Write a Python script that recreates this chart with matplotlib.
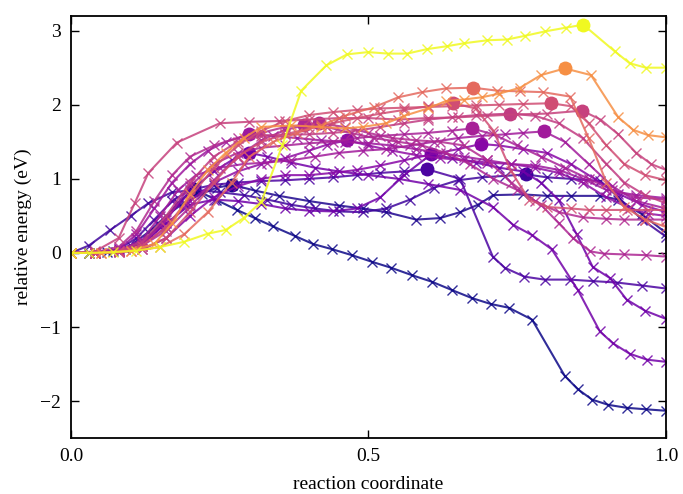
import numpy as np
import matplotlib
matplotlib.use('Agg')
import matplotlib.pyplot as plt

# ── NEB energy profiles (reaction coordinate, relative energy in eV) ──────────
x_A = [0, 0.03, 0.06, 0.09, 0.12, 0.15, 0.18, 0.207, 0.243, 0.279, 0.309, 0.339, 0.376, 0.407, 0.439,
       0.472, 0.506, 0.538, 0.573, 0.607, 0.640, 0.674, 0.706, 0.736, 0.775, 0.830, 0.852, 0.876,
       0.903, 0.934, 0.966, 1.0]
y_A = [0, 0.0, 0.01, 0.05, 0.15, 0.38, 0.68, 0.86, 0.72, 0.58, 0.47, 0.36, 0.23, 0.12, 0.05,
       -0.03, -0.12, -0.20, -0.30, -0.39, -0.50, -0.61, -0.69, -0.74, -0.90, -1.66, -1.84, -1.98,
       -2.05, -2.09, -2.11, -2.13]

x_B = [0, 0.03, 0.07, 0.10, 0.13, 0.16, 0.19, 0.22, 0.245, 0.27, 0.31, 0.35, 0.40, 0.45, 0.49,
       0.53, 0.58, 0.62, 0.654, 0.684, 0.71, 0.76, 0.80, 0.84, 0.89, 0.92, 0.96, 1.0]
y_B = [0, 0.0, 0.02, 0.10, 0.28, 0.50, 0.68, 0.80, 0.88, 0.92, 0.84, 0.77, 0.70, 0.64, 0.60,
       0.55, 0.45, 0.47, 0.55, 0.65, 0.78, 0.79, 0.77, 0.77, 0.77, 0.72, 0.52, 0.27]

x_C = [0, 0.03, 0.066, 0.10, 0.13, 0.17, 0.21, 0.25, 0.29, 0.33, 0.37, 0.41, 0.45, 0.49, 0.53,
       0.57, 0.61, 0.65, 0.69, 0.73, 0.765, 0.80, 0.84, 0.89, 0.92, 0.96, 1.0]
y_C = [0, 0.1, 0.31, 0.5, 0.67, 0.82, 0.85, 0.82, 0.78, 0.72, 0.65, 0.6, 0.56, 0.55, 0.6,
       0.72, 0.88, 0.98, 1.02, 1.04, 1.06, 1.02, 1.0, 0.97, 0.75, 0.45, 0.22]

x_D = [0, 0.04, 0.08, 0.11, 0.14, 0.17, 0.20, 0.24, 0.28, 0.32, 0.36, 0.40, 0.44, 0.48, 0.52,
       0.56, 0.598, 0.654, 0.709, 0.729, 0.762, 0.796, 0.838, 0.877, 0.918, 0.96, 1.0]
y_D = [0, 0.0, 0.05, 0.2, 0.45, 0.7, 0.85, 0.92, 0.95, 0.97, 0.98, 1.0, 1.02, 1.05, 1.08,
       1.1, 1.13, 1.0, -0.05, -0.2, -0.32, -0.36, -0.36, -0.38, -0.4, -0.44, -0.48]

x_E = [0, 0.04, 0.08, 0.12, 0.16, 0.20, 0.24, 0.28, 0.32, 0.36, 0.40, 0.44, 0.48, 0.52, 0.56,
       0.605, 0.64, 0.68, 0.72, 0.76, 0.79, 0.82, 0.85, 0.877, 0.906, 0.934, 0.965, 1.0]
y_E = [0, 0.0, 0.02, 0.12, 0.4, 0.65, 0.72, 0.7, 0.66, 0.6, 0.57, 0.56, 0.6, 0.75, 1.05,
       1.33, 1.28, 1.22, 1.15, 1.1, 0.95, 0.71, 0.25, -0.19, -0.34, -0.63, -0.78, -0.89]

x_F = [0, 0.04, 0.08, 0.12, 0.15, 0.18, 0.21, 0.24, 0.27, 0.30, 0.33, 0.37, 0.41, 0.45, 0.50,
       0.55, 0.60, 0.654, 0.709, 0.743, 0.775, 0.808, 0.852, 0.889, 0.911, 0.939, 0.968, 1.0]
y_F = [0, 0.0, 0.02, 0.12, 0.35, 0.65, 0.9, 1.1, 1.25, 1.35, 1.3, 1.22, 1.15, 1.1, 1.05,
       1.0, 0.93, 0.85, 0.62, 0.38, 0.24, 0.05, -0.5, -1.06, -1.22, -1.36, -1.44, -1.47]

x_G = [0, 0.04, 0.08, 0.12, 0.16, 0.20, 0.24, 0.28, 0.32, 0.36, 0.40, 0.44, 0.48, 0.52, 0.56,
       0.60, 0.65, 0.689, 0.72, 0.76, 0.80, 0.84, 0.88, 0.92, 0.96, 1.0]
y_G = [0, 0.0, 0.01, 0.05, 0.2, 0.5, 0.75, 0.9, 1.0, 1.05, 1.05, 1.08, 1.12, 1.18, 1.25,
       1.32, 1.4, 1.47, 1.45, 1.4, 1.35, 1.2, 1.0, 0.8, 0.65, 0.55]

x_H = [0, 0.04, 0.08, 0.12, 0.16, 0.20, 0.24, 0.28, 0.32, 0.36, 0.40, 0.43, 0.464, 0.50, 0.54,
       0.58, 0.62, 0.66, 0.70, 0.74, 0.78, 0.82, 0.86, 0.90, 0.94, 0.97, 1.0]
y_H = [0, 0.0, 0.02, 0.1, 0.35, 0.7, 0.95, 1.1, 1.2, 1.28, 1.38, 1.46, 1.52, 1.45, 1.38,
       1.32, 1.28, 1.25, 1.22, 1.2, 1.15, 1.08, 0.95, 0.75, 0.6, 0.53, 0.5]

x_I = [0, 0.04, 0.08, 0.11, 0.14, 0.17, 0.20, 0.23, 0.26, 0.299, 0.34, 0.38, 0.42, 0.46, 0.50,
       0.54, 0.58, 0.62, 0.66, 0.70, 0.74, 0.78, 0.82, 0.86, 0.90, 0.95, 1.0]
y_I = [0, 0.0, 0.05, 0.25, 0.6, 0.95, 1.2, 1.38, 1.5, 1.60, 1.58, 1.55, 1.52, 1.5, 1.48,
       1.45, 1.4, 1.35, 1.3, 1.25, 1.2, 1.18, 1.12, 1.0, 0.85, 0.78, 0.74]

x_J = [0, 0.04, 0.08, 0.12, 0.15, 0.18, 0.21, 0.25, 0.29, 0.33, 0.37, 0.41, 0.45, 0.49, 0.53,
       0.57, 0.61, 0.65, 0.69, 0.73, 0.76, 0.795, 0.83, 0.87, 0.91, 0.95, 1.0]
y_J = [0, 0.0, 0.03, 0.18, 0.5, 0.85, 1.05, 1.15, 1.2, 1.22, 1.25, 1.3, 1.35, 1.38, 1.4,
       1.45, 1.5, 1.55, 1.58, 1.6, 1.62, 1.64, 1.5, 1.2, 0.9, 0.7, 0.6]

x_K = [0, 0.04, 0.08, 0.12, 0.16, 0.20, 0.24, 0.28, 0.32, 0.36, 0.40, 0.44, 0.48, 0.52, 0.56,
       0.60, 0.64, 0.674, 0.71, 0.75, 0.79, 0.83, 0.87, 0.91, 0.95, 1.0]
y_K = [0, 0.0, 0.02, 0.12, 0.45, 0.9, 1.2, 1.35, 1.42, 1.45, 1.48, 1.5, 1.55, 1.58, 1.6,
       1.62, 1.65, 1.68, 1.6, 1.45, 1.3, 1.15, 1.0, 0.85, 0.75, 0.72]

x_L = [0, 0.04, 0.08, 0.12, 0.16, 0.20, 0.24, 0.28, 0.32, 0.36, 0.392, 0.43, 0.47, 0.51, 0.55,
       0.59, 0.63, 0.67, 0.71, 0.75, 0.79, 0.82, 0.844, 0.873, 0.896, 0.929, 0.966, 1.0]
y_L = [0, 0.0, 0.02, 0.1, 0.3, 0.62, 0.98, 1.3, 1.52, 1.66, 1.72, 1.70, 1.62, 1.55, 1.5,
       1.45, 1.35, 1.2, 1.0, 0.85, 0.65, 0.4, 0.2, 0.02, -0.01, -0.02, -0.03, -0.05]

x_M = [0, 0.04, 0.08, 0.11, 0.14, 0.17, 0.20, 0.24, 0.28, 0.32, 0.36, 0.417, 0.46, 0.50, 0.54,
       0.58, 0.62, 0.66, 0.70, 0.74, 0.78, 0.82, 0.86, 0.90, 0.93, 0.965, 1.0]
y_M = [0, 0.01, 0.08, 0.3, 0.7, 1.05, 1.3, 1.45, 1.55, 1.62, 1.7, 1.75, 1.7, 1.62, 1.55,
       1.52, 1.5, 1.45, 1.25, 0.95, 0.7, 0.55, 0.48, 0.46, 0.45, 0.45, 0.45]

x_N = [0, 0.04, 0.08, 0.12, 0.16, 0.20, 0.24, 0.28, 0.32, 0.36, 0.40, 0.44, 0.48, 0.52, 0.56,
       0.60, 0.64, 0.68, 0.738, 0.78, 0.82, 0.86, 0.90, 0.93, 0.965, 1.0]
y_N = [0, 0.0, 0.03, 0.15, 0.5, 0.95, 1.3, 1.5, 1.58, 1.6, 1.6, 1.62, 1.65, 1.7, 1.75,
       1.8, 1.83, 1.86, 1.88, 1.85, 1.75, 1.55, 1.2, 0.95, 0.78, 0.67]

x_O = [0, 0.04, 0.08, 0.107, 0.13, 0.178, 0.25, 0.30, 0.35, 0.40, 0.45, 0.50, 0.55, 0.60, 0.65,
       0.70, 0.75, 0.80, 0.859, 0.89, 0.92, 0.95, 0.975, 1.0]
y_O = [0, 0.02, 0.2, 0.67, 1.08, 1.49, 1.75, 1.77, 1.78, 1.80, 1.82, 1.82, 1.80, 1.82, 1.83,
       1.85, 1.87, 1.88, 1.92, 1.8, 1.6, 1.35, 1.2, 1.12]

x_P = [0, 0.04, 0.08, 0.12, 0.16, 0.20, 0.24, 0.28, 0.32, 0.36, 0.40, 0.44, 0.48, 0.52, 0.56,
       0.60, 0.642, 0.68, 0.71, 0.74, 0.77, 0.80, 0.84, 0.87, 0.90, 0.935, 0.97, 1.0]
y_P = [0, 0.0, 0.01, 0.05, 0.2, 0.55, 0.95, 1.3, 1.5, 1.6, 1.68, 1.75, 1.82, 1.88, 1.93,
       1.98, 2.02, 1.95, 1.65, 1.1, 0.72, 0.62, 0.6, 0.58, 0.58, 0.58, 0.58, 0.58]

x_Q = [0, 0.04, 0.08, 0.12, 0.16, 0.20, 0.24, 0.28, 0.32, 0.36, 0.40, 0.44, 0.48, 0.52, 0.56,
       0.60, 0.64, 0.68, 0.72, 0.76, 0.807, 0.84, 0.87, 0.90, 0.93, 0.965, 1.0]
y_Q = [0, 0.0, 0.02, 0.1, 0.35, 0.75, 1.15, 1.45, 1.65, 1.78, 1.86, 1.90, 1.93, 1.95, 1.96,
       1.97, 1.98, 1.99, 2.0, 2.01, 2.02, 1.98, 1.75, 1.45, 1.2, 1.05, 0.98]

x_R = [0, 0.05, 0.10, 0.15, 0.19, 0.23, 0.27, 0.30, 0.34, 0.38, 0.42, 0.46, 0.51, 0.55, 0.59,
       0.63, 0.676, 0.716, 0.755, 0.793, 0.839, 0.87, 0.90, 0.93, 0.965, 1.0]
y_R = [0, 0.0, 0.02, 0.08, 0.25, 0.55, 0.95, 1.3, 1.5, 1.62, 1.72, 1.85, 1.97, 2.10, 2.17,
       2.22, 2.23, 2.19, 2.18, 2.17, 2.11, 1.55, 0.95, 0.62, 0.45, 0.35]

x_S = [0, 0.05, 0.10, 0.14, 0.17, 0.20, 0.23, 0.26, 0.29, 0.32, 0.37, 0.42, 0.46, 0.49, 0.53,
       0.56, 0.60, 0.63, 0.66, 0.69, 0.72, 0.755, 0.79, 0.83, 0.874, 0.92, 0.945, 0.97, 1.0]
y_S = [0, 0.0, 0.03, 0.12, 0.4, 0.8, 1.12, 1.35, 1.55, 1.70, 1.72, 1.70, 1.68, 1.70, 1.75,
       1.85, 1.95, 2.05, 2.07, 2.10, 2.15, 2.23, 2.40, 2.49, 2.40, 1.83, 1.66, 1.59, 1.56]

x_T = [0, 0.03, 0.07, 0.11, 0.15, 0.19, 0.23, 0.26, 0.29, 0.32, 0.355, 0.387, 0.429, 0.464, 0.499,
       0.533, 0.565, 0.598, 0.632, 0.661, 0.70, 0.733, 0.763, 0.797, 0.832, 0.861, 0.914, 0.939,
       0.966, 1.0]
y_T = [0, 0.0, 0.01, 0.03, 0.08, 0.15, 0.26, 0.31, 0.47, 0.69, 1.45, 2.19, 2.53, 2.68, 2.71,
       2.69, 2.69, 2.75, 2.79, 2.83, 2.87, 2.88, 2.93, 2.99, 3.04, 3.08, 2.72, 2.56, 2.50, 2.50]

paths = [(x_A, y_A), (x_B, y_B), (x_C, y_C), (x_D, y_D), (x_E, y_E), (x_F, y_F),
         (x_G, y_G), (x_H, y_H), (x_I, y_I), (x_J, y_J), (x_K, y_K), (x_L, y_L),
         (x_M, y_M), (x_N, y_N), (x_O, y_O), (x_P, y_P), (x_Q, y_Q), (x_R, y_R),
         (x_S, y_S), (x_T, y_T)]

# ── Plot ──────────────────────────────────────────────────────────────────────
plt.rcParams['font.family'] = ['Liberation Serif', 'DejaVu Serif']
plt.rcParams['mathtext.fontset'] = 'stix'

fig = plt.figure(figsize=(6.83, 4.94), dpi=100)
ax = fig.add_axes([0.104, 0.113, 0.871, 0.855])

barriers = [max(y) for _, y in paths]
lo, hi = min(barriers), max(barriers)
cmap = plt.get_cmap('plasma')

for (x, y), b in zip(paths, barriers):
    c = cmap((b - lo) / (hi - lo))
    ax.plot(x, y, '-x', color=c, lw=1.5, ms=7, mew=1.0, alpha=0.85)
    i = int(np.argmax(y))
    ax.plot(x[i], y[i], 'o', color=c, ms=9, mec=c)

ax.set_xlim(0, 1)
ax.set_ylim(-2.5, 3.2)
ax.set_xticks([0, 0.5, 1.0])
ax.set_xticklabels(['0.0', '0.5', '1.0'])
ax.set_yticks([-2, -1, 0, 1, 2, 3])
ax.tick_params(direction='in', top=True, right=True, length=6, width=1,
               labelsize=14, pad=7)
for s in ax.spines.values():
    s.set_linewidth(1.3)
ax.set_xlabel('reaction coordinate', fontsize=14, labelpad=8)
ax.set_ylabel('relative energy (eV)', fontsize=14, labelpad=6)

fig.savefig('out.png', dpi=100)
